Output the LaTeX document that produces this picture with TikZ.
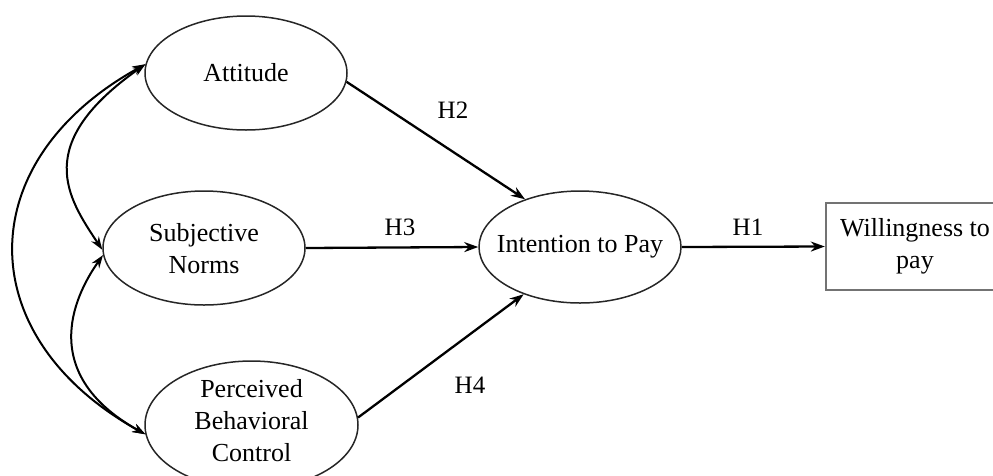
\documentclass[tikz,border=0pt]{standalone}
\usepackage{fontspec}
\setmainfont{Liberation Serif}
\usetikzlibrary{shapes.geometric,arrows.meta}
\begin{document}
\begin{tikzpicture}[x=1pt,y=-1pt,
  every node/.style={font=\fontsize{26}{32}\selectfont},
  construct/.style={draw=black!85, line width=1.5pt, ellipse, inner sep=0pt},
  caption/.style={align=center, inner sep=0pt},
  outcome/.style={draw=black!55, line width=2.4pt, rectangle, align=center,
    minimum width=178pt, minimum height=87pt, inner sep=0pt},
  path arrow/.style={line width=2.3pt, -{Stealth[length=14pt,width=10pt]}},
  covar/.style={line width=2pt, {Stealth[length=13pt,width=9pt]}-{Stealth[length=13pt,width=9pt]}},
  hyp/.style={font=\fontsize{25}{30}\selectfont, inner sep=0pt}]
\useasboundingbox (0,0) rectangle (993,475);

% latent constructs
\node[construct, minimum width=202pt, minimum height=114pt] (att) at (246,73) {};
\node[construct, minimum width=202pt, minimum height=114pt] (sub) at (204,248) {};
\node[construct, minimum width=213pt, minimum height=128pt] (pbc) at (251.5,425) {};
\node[construct, minimum width=202pt, minimum height=112pt] (int) at (580,247) {};
\node[outcome] (wtp) at (915,246.5) {Willingness to\\pay};

% construct names
\node[caption] (attlbl) at (att) {Attitude};
\node[caption] (sublbl) at (204,249) {Subjective\\Norms};
\node[caption] (pbclbl) at (251.5,421) {Perceived\\Behavioral\\Control};
\node[caption] (intlbl) at (int) {Intention to Pay};

% hypothesised paths
\draw[path arrow] (att.355) -- (int.139);
\draw[path arrow] (sub.east) -- (int.west);
\draw[path arrow] (pbc.4) -- (int.220);
\draw[path arrow] (int.east) -- (wtp.west);

\node[hyp] (h2) at (453,110) {H2};
\node[hyp] (h3) at (400,227) {H3};
\node[hyp] (h4) at (470,385) {H4};
\node[hyp] (h1) at (748,227) {H1};

% correlations among the exogenous constructs
\coordinate (c1) at (32,144);
\coordinate (c2) at (67,197);
\draw[covar] (att.175) .. controls (c1) and (c2) .. (sub.181);
\coordinate (c3) at (79,289);
\coordinate (c4) at (32,371);
\draw[covar] (sub.184) .. controls (c3) and (c4) .. (pbc.185);
\coordinate (c5) at (-30,161);
\coordinate (c6) at (-30,337);
\draw[covar] (att.175) .. controls (c5) and (c6) .. (pbc.185);
\end{tikzpicture}
\end{document}
